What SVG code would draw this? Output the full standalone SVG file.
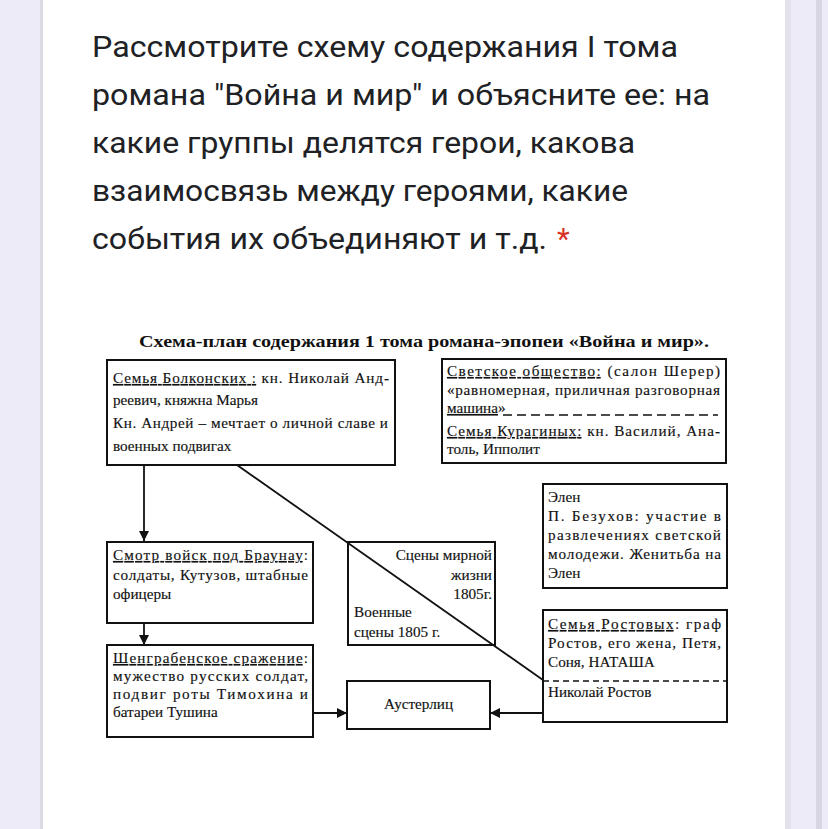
<svg xmlns="http://www.w3.org/2000/svg" width="828" height="829" viewBox="0 0 828 829">
<style>
.q{font-family:Roboto,"Noto Sans",sans-serif;font-size:29.5px;fill:#202124}
.t{font-family:"Liberation Serif",serif;font-size:15.2px;fill:#111;stroke:#111;stroke-width:0.15}
.ttl{font-family:"Liberation Serif",serif;font-size:17.5px;font-weight:bold;fill:#111}
.box{fill:#fff;stroke:#111;stroke-width:2}
.ln{stroke:#111;stroke-width:1.8;fill:none}
.u{text-decoration:underline}
</style>
<defs>
<marker id="ah" viewBox="0 0 10 10" refX="10" refY="5" markerWidth="10" markerHeight="10" markerUnits="userSpaceOnUse" orient="auto">
<path d="M0,0 L10,5 L0,10 z" fill="#111"/>
</marker>
</defs>
<rect x="0" y="0" width="828" height="829" fill="#ecebf7"/>
<rect x="40" y="0" width="3" height="829" fill="#dcdbe4"/>
<rect x="43" y="0" width="742" height="829" fill="#fff"/>
<rect x="785" y="0" width="6" height="829" fill="#e3e2ec"/>
<rect x="816" y="0" width="6" height="829" fill="#d8d6e2"/>
<g id="question">
<text class="q" x="92" y="57" textLength="586" lengthAdjust="spacingAndGlyphs">Рассмотрите схему содержания I тома</text>
<text class="q" x="92" y="105" textLength="618" lengthAdjust="spacingAndGlyphs">романа "Война и мир" и объясните ее: на</text>
<text class="q" x="92" y="153" textLength="543" lengthAdjust="spacingAndGlyphs">какие группы делятся герои, какова</text>
<text class="q" x="92" y="201" textLength="536" lengthAdjust="spacingAndGlyphs">взаимосвязь между героями, какие</text>
<text class="q" x="92" y="249" textLength="455" lengthAdjust="spacingAndGlyphs">события их объединяют и т.д.</text>
<text class="q" x="557" y="249" style="fill:#d93025">*</text>
</g>
<text class="ttl" x="139" y="347" textLength="570" lengthAdjust="spacingAndGlyphs">Схема-план содержания 1 тома романа-эпопеи «Война и мир».</text>
<g id="connectors">
<line class="ln" x1="144" y1="465" x2="144" y2="541" marker-end="url(#ah)"/>
<line class="ln" x1="144" y1="623" x2="144" y2="645" marker-end="url(#ah)"/>
<line class="ln" x1="313" y1="713" x2="347" y2="713" marker-end="url(#ah)"/>
<line class="ln" x1="543" y1="713" x2="490" y2="713" marker-end="url(#ah)"/>
</g>
<g id="bolkonsky">
<rect class="box" x="107" y="360" width="288" height="105"/>
<text class="t" x="113" y="383" textLength="276" lengthAdjust="spacing"><tspan class="u">Семья Болконских :</tspan> кн. Николай Анд-</text>
<text class="t" x="113" y="405">реевич, княжна Марья</text>
<text class="t" x="113" y="428" textLength="275" lengthAdjust="spacing">Кн. Андрей – мечтает о личной славе и</text>
<text class="t" x="113" y="451">военных подвигах</text>
</g>
<g id="svetskoe">
<rect class="box" x="442" y="359" width="284" height="104"/>
<text class="t" x="447" y="376" textLength="273" lengthAdjust="spacing"><tspan class="u">Светское общество:</tspan> (салон Шерер)</text>
<text class="t" x="447" y="395" textLength="273" lengthAdjust="spacing">«равномерная, приличная разговорная</text>
<text class="t" x="447" y="413"><tspan class="u">машина</tspan>»</text>
<line x1="503" y1="415" x2="718" y2="415" stroke="#111" stroke-width="1.3" stroke-dasharray="9,5"/>
<text class="t" x="447" y="436" textLength="273" lengthAdjust="spacing"><tspan class="u">Семья Курагиных:</tspan> кн. Василий, Ана-</text>
<text class="t" x="447" y="454">толь, Ипполит</text>
</g>
<g id="helen">
<rect class="box" x="543" y="484" width="184" height="104"/>
<text class="t" x="548" y="502">Элен</text>
<text class="t" x="548" y="521" textLength="173" lengthAdjust="spacing">П. Безухов: участие в</text>
<text class="t" x="548" y="540" textLength="173" lengthAdjust="spacing">развлечениях  светской</text>
<text class="t" x="548" y="559" textLength="173" lengthAdjust="spacing">молодежи. Женитьба на</text>
<text class="t" x="548" y="578">Элен</text>
</g>
<g id="rostov">
<rect class="box" x="543" y="610" width="184" height="112"/>
<text class="t" x="548" y="629" textLength="173" lengthAdjust="spacing"><tspan class="u">Семья Ростовых</tspan>: граф</text>
<text class="t" x="548" y="648" textLength="173" lengthAdjust="spacing">Ростов, его жена, Петя,</text>
<text class="t" x="548" y="667">Соня, НАТАША</text>
<line x1="543" y1="681" x2="727" y2="681" stroke="#111" stroke-width="1.5" stroke-dasharray="6,4"/>
<text class="t" x="548" y="697">Николай Ростов</text>
</g>
<g id="smotr">
<rect class="box" x="107" y="542" width="206" height="81"/>
<text class="t" x="113" y="560" textLength="195" lengthAdjust="spacing"><tspan class="u">Смотр войск под Браунау</tspan>:</text>
<text class="t" x="113" y="580" textLength="195" lengthAdjust="spacing">солдаты, Кутузов, штабные</text>
<text class="t" x="113" y="599">офицеры</text>
</g>
<g id="shengraben">
<rect class="box" x="107" y="645" width="206" height="92"/>
<text class="t" x="113" y="663" textLength="195" lengthAdjust="spacing"><tspan class="u">Шенграбенское  сражение</tspan>:</text>
<text class="t" x="113" y="681" textLength="195" lengthAdjust="spacing">мужество русских солдат,</text>
<text class="t" x="113" y="699" textLength="195" lengthAdjust="spacing">подвиг роты Тимохина и</text>
<text class="t" x="113" y="717">батареи Тушина</text>
</g>
<g id="scenes">
<rect class="box" x="348" y="542" width="147" height="103"/>
<text class="t" x="492" y="560" text-anchor="end">Сцены мирной</text>
<text class="t" x="492" y="580" text-anchor="end">жизни</text>
<text class="t" x="492" y="599" text-anchor="end">1805г.</text>
<text class="t" x="354" y="617">Военные</text>
<text class="t" x="354" y="637">сцены 1805 г.</text>
</g>
<g id="austerlitz">
<rect class="box" x="347" y="681" width="143" height="48"/>
<text class="t" x="418.5" y="709" text-anchor="middle">Аустерлиц</text>
</g>
<g id="diagonal">
<line class="ln" x1="237" y1="465" x2="543" y2="680"/>
</g>
</svg>
